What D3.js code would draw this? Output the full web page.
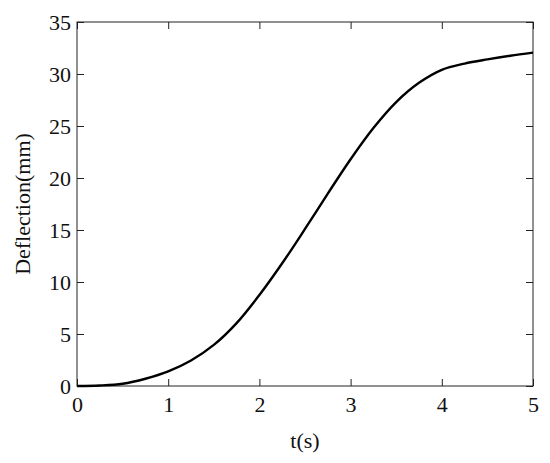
<!DOCTYPE html>
<html>
<head>
<meta charset="utf-8">
<script src="https://cdn.jsdelivr.net/npm/d3@7"></script>
<style>
  html, body { margin: 0; padding: 0; background: #fff; }
  svg { display: block; }
</style>
</head>
<body>
<svg id="chart" width="550" height="463"></svg>
<script>
const tValues = [0, 0.25, 0.5, 0.75, 1.0, 1.25, 1.5, 1.75, 2.0, 2.25, 2.5, 2.75, 3.0, 3.25, 3.5, 3.75, 4.0, 4.25, 4.5, 4.75, 5.0];
const deflection = [0, 0.05, 0.22, 0.7, 1.4, 2.45, 3.95, 6.05, 8.75, 11.8, 15.1, 18.5, 21.8, 24.8, 27.3, 29.15, 30.4, 31.0, 31.4, 31.75, 32.05];
const xTicks = [0, 1, 2, 3, 4, 5];
const yTicks = [0, 5, 10, 15, 20, 25, 30, 35];
const xLabel = "t(s)";
const yLabel = "Deflection(mm)";

const W = 550, H = 463;
const margin = { left: 77, right: 17, top: 22, bottom: 77 };
const iw = W - margin.left - margin.right;
const ih = H - margin.top - margin.bottom;
const font = "Liberation Serif, Times New Roman, serif";

const svg = d3.select("#chart");
const g = svg.append("g").attr("transform", `translate(${margin.left},${margin.top})`);

const x = d3.scaleLinear().domain([0, 5]).range([0, iw]);
const y = d3.scaleLinear().domain([0, 35]).range([ih, 0]);

function styleAxis(sel) {
  sel.select(".domain").remove();
  sel.selectAll(".tick line").attr("stroke", "#222").attr("stroke-width", 1);
  sel.selectAll(".tick text").attr("font-family", font).attr("font-size", 22).attr("fill", "#111");
}

g.append("g").attr("transform", `translate(0,${ih})`)
  .call(d3.axisBottom(x).tickValues(xTicks).tickFormat(d3.format("d")).tickSizeInner(-7).tickPadding(10))
  .call(styleAxis);
g.append("g")
  .call(d3.axisTop(x).tickValues(xTicks).tickFormat("").tickSizeInner(-7))
  .call(styleAxis);
g.append("g")
  .call(d3.axisLeft(y).tickValues(yTicks).tickFormat(d3.format("d")).tickSizeInner(-7).tickPadding(6))
  .call(styleAxis);
g.append("g").attr("transform", `translate(${iw},0)`)
  .call(d3.axisRight(y).tickValues(yTicks).tickFormat("").tickSizeInner(-7))
  .call(styleAxis);

g.append("rect").attr("x", 0).attr("y", 0).attr("width", iw).attr("height", ih)
  .attr("fill", "none").attr("stroke", "#222").attr("stroke-width", 1);

const data = tValues.map((t, i) => ({ t, v: deflection[i] }));
g.append("path").datum(data)
  .attr("fill", "none").attr("stroke", "#000").attr("stroke-width", 2.4)
  .attr("d", d3.line().x(d => x(d.t)).y(d => y(d.v)).curve(d3.curveCatmullRom.alpha(0.5)));

svg.append("text").attr("x", margin.left + iw / 2).attr("y", 448)
  .attr("text-anchor", "middle").attr("font-family", font).attr("font-size", 22).attr("fill", "#111")
  .text(xLabel);
svg.append("text").attr("transform", `translate(30,${margin.top + ih / 2}) rotate(-90)`)
  .attr("text-anchor", "middle").attr("font-family", font).attr("font-size", 22).attr("fill", "#111")
  .text(yLabel);
</script>
</body>
</html>
